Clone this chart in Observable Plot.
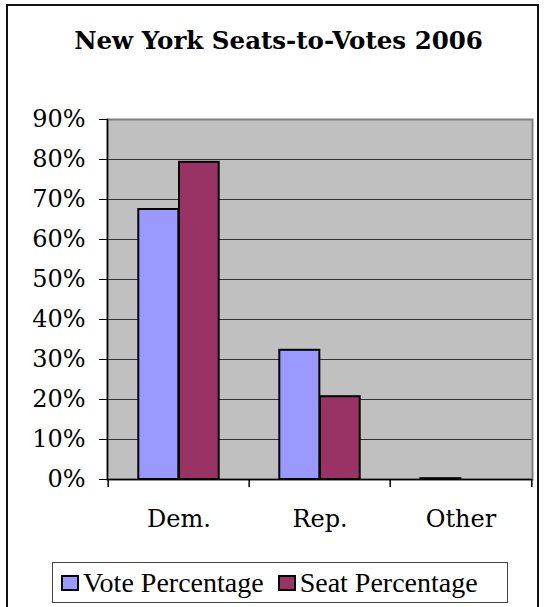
<!DOCTYPE html>
<html>
<head>
<meta charset="utf-8">
<script src="https://cdn.jsdelivr.net/npm/d3@7"></script>
<script src="https://cdn.jsdelivr.net/npm/@observablehq/plot@0.6"></script>
<style>
  html, body { margin: 0; padding: 0; background: #fff; }
  #wrap { position: relative; width: 544px; height: 607px; overflow: hidden; background: #fff; }
  #border { position: absolute; left: 6px; top: 4px; width: 533px; height: 640px; border: 2px solid #111; box-sizing: border-box; }
  #title { position: absolute; left: 0; top: 29px; width: 557px; text-align: center; font-family: "DejaVu Serif", serif; font-weight: bold; font-size: 24.5px; line-height: 24px; color: #000; white-space: nowrap; }
  #chart { position: absolute; left: 0; top: 99px; }
  #legend { position: absolute; left: 52px; top: 562px; width: 456px; height: 41px; border: 1px solid #444; box-sizing: border-box; display: flex; align-items: center; padding-left: 8px; font-family: "Liberation Serif", "Times New Roman", serif; font-size: 28px; line-height: 38px; color: #000; white-space: nowrap; }
  .sw { display: inline-block; width: 18px; height: 16px; border: 2px solid #000; box-sizing: border-box; margin-right: 4px; }
  .item { display: flex; align-items: center; }
</style>
</head>
<body>
<div id="wrap">
  <div id="border"></div>
  <div id="title">New York Seats-to-Votes 2006</div>
  <div id="chart"></div>
  <div id="legend"></div>
</div>
<script>
const title = "New York Seats-to-Votes 2006";
const parties = ["Dem.", "Rep.", "Other"];
const votePct = [67.5, 32.3, 0.2];
const seatPct = [79.3, 20.7, 0];
const seriesNames = ["Vote Percentage", "Seat Percentage"];
const seriesColors = ["#9999ff", "#993366"];
const yTicks = [0, 10, 20, 30, 40, 50, 60, 70, 80, 90];

const voteRows = parties.map((p, i) => ({party: p, series: seriesNames[0], value: votePct[i]}));
const seatRows = parties.map((p, i) => ({party: p, series: seriesNames[1], value: seatPct[i]}));

const W = 544, H = 450, mL = 107, mR = 12, mT = 20, mB = 70;
const bw = (W - mL - mR) / parties.length;
const plotH = H - mT - mB;
const gap = 30.3, barW = 40.7;

const chart = Plot.plot({
  width: W, height: H,
  marginLeft: mL, marginRight: mR, marginTop: mT, marginBottom: mB,
  style: {fontFamily: "DejaVu Serif, serif", fontSize: "24px", color: "#000", background: "transparent"},
  x: {domain: parties, padding: 0, axis: null, label: null},
  y: {domain: [0, 90], axis: null, label: null},
  color: {domain: seriesNames, range: seriesColors},
  marks: [
    Plot.frame({fill: "#c0c0c0", stroke: "none"}),
    Plot.gridY(yTicks, {stroke: "#333", strokeOpacity: 1, strokeWidth: 1}),
    Plot.frame({stroke: "#808080", strokeWidth: 2}),
    Plot.barY(voteRows.filter(d => d.value > 0), {x: "party", y: "value", fill: "series", stroke: "#000", strokeWidth: 2, insetLeft: gap, insetRight: bw - gap - barW}),
    Plot.barY(seatRows.filter(d => d.value > 0), {x: "party", y: "value", fill: "series", stroke: "#000", strokeWidth: 2, insetLeft: gap + barW, insetRight: gap}),
    Plot.frame({anchor: "left", stroke: "#000", strokeWidth: 1.5}),
    Plot.ruleY([0], {stroke: "#000", strokeWidth: 1.5}),
    Plot.axisY(yTicks, {tickSize: 8, tickPadding: 14, tickFormat: d => d + "%", fontSize: 24, label: null}),
    Plot.axisX(parties, {tickSize: 0, tickPadding: 30, fontSize: 24, label: null}),
    Plot.tickX(parties, {x: d => d, dx: -bw / 2, insetTop: plotH, insetBottom: -8, stroke: "#000", strokeWidth: 1.5}),
    Plot.tickX(parties.slice(-1), {x: d => d, dx: bw / 2, insetTop: plotH, insetBottom: -8, stroke: "#000", strokeWidth: 1.5})
  ]
});
document.getElementById("chart").appendChild(chart);

const legend = document.getElementById("legend");
seriesNames.forEach((name, i) => {
  const item = document.createElement("span");
  item.className = "item";
  if (i > 0) item.style.marginLeft = "14px";
  const sw = document.createElement("span");
  sw.className = "sw";
  sw.style.background = seriesColors[i];
  const tx = document.createElement("span");
  tx.textContent = name;
  item.appendChild(sw);
  item.appendChild(tx);
  legend.appendChild(item);
});
</script>
</body>
</html>
